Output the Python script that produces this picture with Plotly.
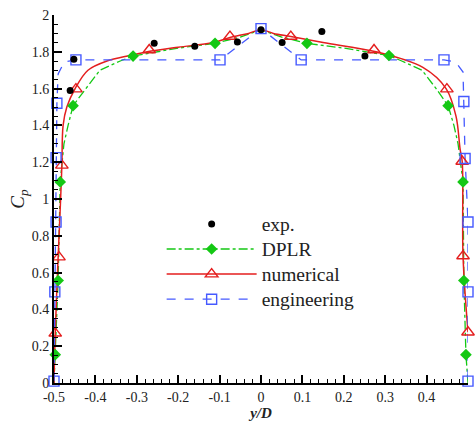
import plotly.graph_objects as go

# ---- data ----
exp_x = [-0.461, -0.452, -0.258, -0.160, -0.057, 0.0, 0.051, 0.147, 0.251]
exp_y = [1.59, 1.76, 1.846, 1.83, 1.853, 1.92, 1.85, 1.91, 1.777]

dplr_curve_x = [-0.5, -0.497, -0.49, -0.485, -0.476, -0.466, -0.454, -0.423, -0.389, -0.34, -0.309, -0.2, -0.111, -0.05, 0.0,
                0.05, 0.111, 0.2, 0.309, 0.34, 0.389, 0.423, 0.452, 0.466, 0.476, 0.488, 0.49, 0.495, 0.5]
dplr_curve_y = [0.0, 0.154, 0.557, 1.093, 1.3, 1.4, 1.507, 1.6, 1.7, 1.75, 1.777, 1.82, 1.846, 1.88, 1.92,
                1.88, 1.846, 1.82, 1.78, 1.75, 1.7, 1.6, 1.507, 1.4, 1.3, 1.093, 0.557, 0.154, 0.0]
dplr_x = [-0.497, -0.49, -0.485, -0.454, -0.309, -0.111, 0.111, 0.309, 0.452, 0.488, 0.49, 0.495]
dplr_y = [0.154, 0.557, 1.093, 1.507, 1.777, 1.846, 1.846, 1.78, 1.507, 1.093, 0.557, 0.154]

num_curve_x = [-0.5, -0.497, -0.49, -0.484, -0.481, -0.478, -0.469, -0.449, -0.418, -0.372, -0.316, -0.275, -0.2, -0.116, -0.075, -0.03, 0.0,
               0.03, 0.072, 0.15, 0.278, 0.391, 0.447, 0.471, 0.481, 0.486, 0.488, 0.5]
num_curve_y = [0.0, 0.27, 0.684, 1.0, 1.183, 1.4, 1.5, 1.6, 1.7, 1.75, 1.78, 1.80, 1.825, 1.85, 1.878, 1.9, 1.92,
               1.9, 1.883, 1.85, 1.80, 1.715, 1.60, 1.45, 1.27, 1.204, 0.69, 0.276]
num_x = [-0.497, -0.488, -0.481, -0.447, -0.27, -0.075, 0.072, 0.273, 0.449, 0.486, 0.488, 0.5]
num_y = [0.27, 0.684, 1.183, 1.597, 1.81, 1.883, 1.883, 1.81, 1.597, 1.204, 0.69, 0.276]

eng_curve_x = [-0.5, -0.498, -0.495, -0.495, -0.493, -0.49, -0.475, -0.447, -0.099, 0.0, 0.097, 0.442, 0.47, 0.488, 0.49, 0.493, 0.5, 0.5, 0.5]
eng_curve_y = [0.01, 0.495, 0.875, 1.225, 1.52, 1.68, 1.745, 1.756, 1.756, 1.926, 1.756, 1.756, 1.745, 1.69, 1.53, 1.22, 0.875, 0.495, 0.01]
eng_x = [-0.5, -0.498, -0.495, -0.495, -0.493, -0.447, -0.099, 0.0, 0.097, 0.442, 0.49, 0.493, 0.5, 0.5, 0.5]
eng_y = [0.01, 0.495, 0.875, 1.225, 1.52, 1.756, 1.756, 1.926, 1.756, 1.756, 1.53, 1.22, 0.875, 0.495, 0.01]

series_names = ["exp.", "DPLR", "numerical", "engineering"]

x_ticks = [-0.5, -0.4, -0.3, -0.2, -0.1, 0, 0.1, 0.2, 0.3, 0.4, 0.5]
x_tick_text = ["-0.5", "-0.4", "-0.3", "-0.2", "-0.1", "0", "0.1", "0.2", "0.3", "0.4", "0.5"]
y_ticks = [0, 0.2, 0.4, 0.6, 0.8, 1, 1.2, 1.4, 1.6, 1.8, 2]
y_tick_text = ["0", "0.2", "0.4", "0.6", "0.8", "1", "1.2", "1.4", "1.6", "1.8", "2"]

GREEN = "rgb(20,200,20)"
RED = "rgb(228,30,30)"
BLUE = "rgb(70,90,255)"
SERIF = "Liberation Serif"


def lg(name):
    return '<span style="font-size:19.5px">' + name + '</span>'


fig = go.Figure()

# curves
fig.add_trace(go.Scatter(x=dplr_curve_x, y=dplr_curve_y, mode="lines", showlegend=False,
                         line=dict(color=GREEN, width=1.3, dash="dashdot"), cliponaxis=False))
fig.add_trace(go.Scatter(x=num_curve_x, y=num_curve_y, mode="lines", showlegend=False,
                         line=dict(color=RED, width=1.5), line_shape="spline", cliponaxis=False))
fig.add_trace(go.Scatter(x=eng_curve_x, y=eng_curve_y, mode="lines", showlegend=False,
                         line=dict(color=BLUE, width=1.3, dash="dash"), cliponaxis=False))

# markers
fig.add_trace(go.Scatter(x=dplr_x, y=dplr_y, mode="markers", showlegend=False, cliponaxis=False,
                         marker=dict(symbol="diamond", size=9, color=GREEN)))
fig.add_trace(go.Scatter(x=num_x, y=num_y, mode="markers", showlegend=False, cliponaxis=False,
                         marker=dict(symbol="triangle-up-open", size=11, color=RED, line=dict(width=1.4))))
fig.add_trace(go.Scatter(x=eng_x, y=eng_y, mode="markers", showlegend=False, cliponaxis=False,
                         marker=dict(symbol="square-open", size=10, color=BLUE, line=dict(width=1.4))))
fig.add_trace(go.Scatter(x=exp_x, y=exp_y, mode="markers", name=lg(series_names[0]), cliponaxis=False,
                         marker=dict(symbol="circle", size=7, color="black")))

# legend dummies
fig.add_trace(go.Scatter(x=[None], y=[None], mode="lines+markers", name=lg(series_names[1]),
                         line=dict(color=GREEN, width=1.3, dash="dashdot"),
                         marker=dict(symbol="diamond", size=9, color=GREEN)))
fig.add_trace(go.Scatter(x=[None], y=[None], mode="lines+markers", name=lg(series_names[2]),
                         line=dict(color=RED, width=1.5),
                         marker=dict(symbol="triangle-up-open", size=11, color=RED, line=dict(width=1.4))))
fig.add_trace(go.Scatter(x=[None], y=[None], mode="lines+markers", name=lg(series_names[3]),
                         line=dict(color=BLUE, width=1.3, dash="dash"),
                         marker=dict(symbol="square-open", size=10, color=BLUE, line=dict(width=1.4))))

axis_common = dict(showline=True, linecolor="black", linewidth=2, showgrid=False, zeroline=False,
                   ticks="inside", ticklen=8, tickwidth=2, tickcolor="black",
                   tickfont=dict(family=SERIF, size=14, color="#222"), mirror=False)

fig.update_xaxes(range=[-0.5, 0.5], tickvals=x_ticks, ticktext=x_tick_text,
                 minor=dict(dtick=0.02, ticks="inside", ticklen=4, tickcolor="black", tickwidth=1),
                 title=dict(text="<b><i>y/D</i></b>", font=dict(family=SERIF, size=15, color="#222"), standoff=2),
                 **axis_common)
fig.update_yaxes(range=[0, 2], tickvals=y_ticks, ticktext=y_tick_text,
                 minor=dict(dtick=0.05, ticks="inside", ticklen=4, tickcolor="black", tickwidth=1),
                 title=dict(text="<i>C</i><sub><i>p</i></sub>", font=dict(family=SERIF, size=19, color="#222"), standoff=2),
                 **axis_common)

fig.update_layout(
    width=476, height=425,
    margin=dict(l=54, r=8, t=13, b=35),
    paper_bgcolor="white", plot_bgcolor="white",
    showlegend=True,
    legend=dict(x=0.26, y=0.48, xanchor="left", yanchor="top", bgcolor="rgba(0,0,0,0)",
                itemwidth=90, font=dict(family=SERIF, size=17, color="#222"), tracegroupgap=0),
)

fig.write_html("out.html")
